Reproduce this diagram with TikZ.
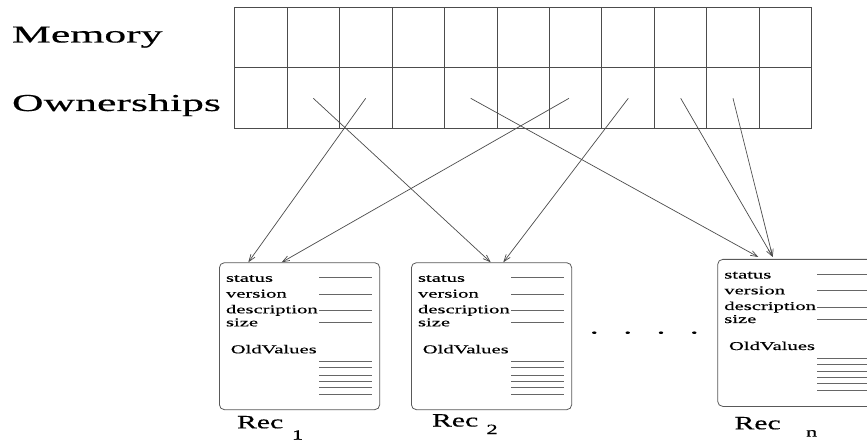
\documentclass[tikz,border=0pt]{standalone}
\usepackage{fontspec}
\setmainfont{Liberation Serif}
\newfontfamily\bigf{Liberation Serif}[FakeStretch=1.80,FakeBold=0.5]
\newfontfamily\smf{Liberation Serif}[FakeStretch=1.72,FakeBold=0.3]
\newfontfamily\recf{Liberation Serif}[FakeStretch=1.58,FakeBold=0.5]
\newfontfamily\subf{Liberation Serif}[FakeStretch=1.6,FakeBold=0.4]
\usetikzlibrary{arrows.meta}
\tikzset{
  cell/.style={draw=black!70, line width=0.8pt},
  recbox/.style={draw=black!65, line width=0.8pt, rounded corners=5pt,
    minimum width=160.3pt, minimum height=147pt, inner sep=0pt, anchor=north west},
  lbl/.style={inner sep=0pt, outer sep=0pt, anchor=base west, text=black},
  fld/.style={lbl, font=\smf\fontsize{12}{14}\selectfont},
  big/.style={lbl, font=\bigf\fontsize{24.3}{28}\selectfont},
  reclbl/.style={lbl, font=\recf\fontsize{18.8}{21}\selectfont},
  sublbl/.style={lbl, font=\subf\fontsize{14}{16}\selectfont},
  fieldrule/.style={draw=black!60, line width=0.6pt},
  ptr/.style={draw=black!70, line width=0.7pt, -{Straight Barb[length=7pt,width=5pt]}},
}
\newcommand\drawrec[3]{%
  \begin{scope}[shift={(#2,#3)}]
    \node[recbox] (#1) at (0,0) {};
    \node[fld] (#1-st) at (7,19.5) {status};
    \node[fld] (#1-ve) at (7,35.3) {version};
    \node[fld] (#1-de) at (7,51) {description};
    \node[fld] (#1-si) at (7,64) {size};
    \node[fld] (#1-ov) at (11.7,91) {OldValues};
    \foreach \yy in {15,31.7,48,60,99.4,105,112.7,118.7,124.7,131.7}
      \draw[fieldrule] (100,\yy) -- (153.3,\yy);
  \end{scope}}
\begin{document}
\begin{tikzpicture}[x=1pt,y=-1pt]
\useasboundingbox (0,0) rectangle (867,443);
\clip (0,0) rectangle (867,443);
\fill[white] (0,0) rectangle (867,443);

% labels
\node[big] (mem) at (12,42.5) {Memory};
\node[big] (own) at (12,111) {Ownerships};

% grid
\foreach \i in {0,...,10} {
  \draw[cell] ({234.7+\i*52.45},7.3) rectangle ++(52.45,60.4);
  \draw[cell] ({234.7+\i*52.45},67.7) rectangle ++(52.45,60.6);
}

% records
\drawrec{r1}{219}{262.3}
\drawrec{r2}{411}{262.3}
\drawrec{rn}{717.3}{259}

% record labels
\node[reclbl] (l1) at (237,428.3) {Rec};
\node[sublbl] (s1) at (292,439.5) {1};
\node[reclbl] (l2) at (432,426.5) {Rec};
\node[sublbl] (s2) at (486.5,434) {2};
\node[reclbl] (ln) at (734.5,429.3) {Rec};
\node[sublbl] (sn) at (806,436.7) {n};

% dots
\foreach \x in {594.3,627.7,661,694.3}
  \fill[black] (\x,332.7) ellipse (2.2pt and 1.3pt);

% pointer origins
\coordinate (o1) at (313.3,98.3);
\coordinate (o2) at (365.7,98.3);
\coordinate (o3) at (470.7,98.3);
\coordinate (o4) at (569,98.3);
\coordinate (o5) at (628.3,98.3);
\coordinate (o6) at (680.7,98.3);
\coordinate (o7) at (733,98.3);

% pointers
\draw[ptr] (o2) -- ([xshift=29.3pt]r1.north west);
\draw[ptr] (o4) -- ([xshift=62.7pt]r1.north west);
\draw[ptr] (o1) -- ([xshift=79.7pt]r2.north west);
\draw[ptr] (o5) -- ([xshift=92.3pt]r2.north west);
\draw[ptr] (o3) -- ([xshift=41pt,yshift=2pt]rn.north west);
\draw[ptr] (o6) -- ([xshift=55.4pt,yshift=2pt]rn.north west);
\draw[ptr] (o7) -- ([xshift=55.4pt,yshift=2pt]rn.north west);
\end{tikzpicture}
\end{document}
